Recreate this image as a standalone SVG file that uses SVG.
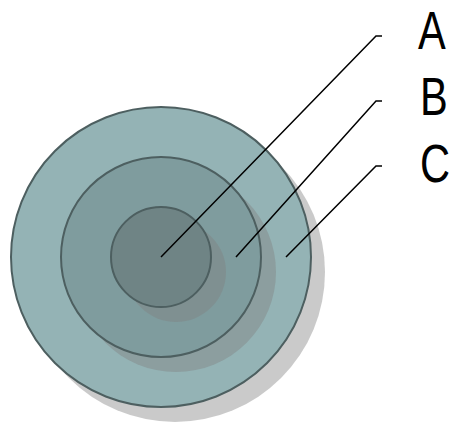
<svg xmlns="http://www.w3.org/2000/svg" width="452" height="424" viewBox="0 0 452 424">
<style>
.ring{stroke:#4d5f60;stroke-width:2}
.shadow{fill:#808080;fill-opacity:0.42}
.lead{fill:none;stroke:#000;stroke-width:1.5}
.lbl{font-family:"Liberation Sans",Arial,sans-serif;font-size:54px;fill:#000}
</style>
<rect width="452" height="424" fill="#fff"/>
<g id="outer">
<circle class="shadow" cx="175" cy="272" r="150"/>
<circle class="ring" cx="161" cy="257" r="150" fill="#94b3b5"/>
</g>
<g id="middle">
<circle class="shadow" cx="176" cy="272" r="100"/>
<circle class="ring" cx="161" cy="257" r="100" fill="#7f9c9e"/>
</g>
<g id="inner">
<circle class="shadow" cx="176" cy="272" r="50"/>
<circle class="ring" cx="161" cy="257" r="50" fill="#6f8485"/>
</g>
<g id="connectors">
<polyline class="lead" points="161,257 376,36 382,36"/>
<polyline class="lead" points="236,257 376,101 382,101"/>
<polyline class="lead" points="286,257 376,166 382,166"/>
</g>
<g id="label-A"><text class="lbl" transform="translate(418,49) scale(0.77,1)">A</text></g>
<g id="label-B"><text class="lbl" transform="translate(420,115) scale(0.77,1)">B</text></g>
<g id="label-C"><text class="lbl" transform="translate(420,182) scale(0.77,1)">C</text></g>
</svg>
